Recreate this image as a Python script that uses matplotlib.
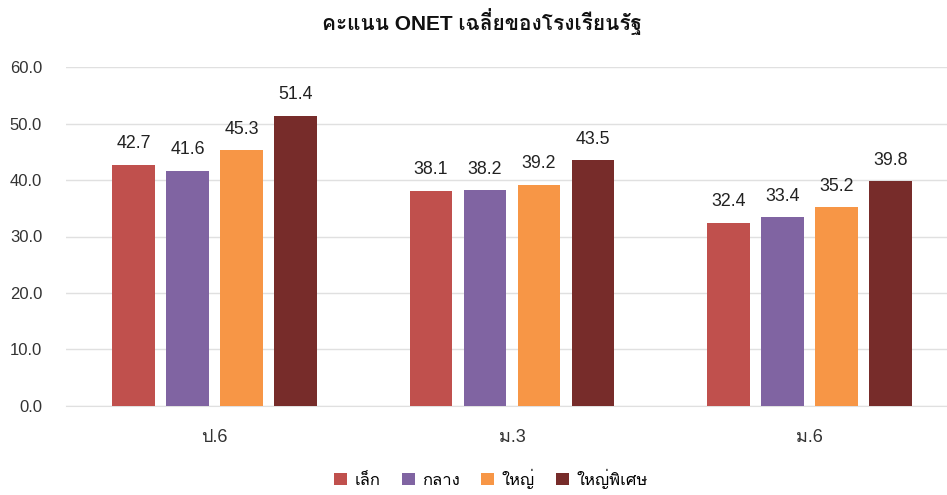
import matplotlib
matplotlib.use("Agg")
import matplotlib.pyplot as plt
from matplotlib import font_manager
import numpy as np

categories = ["ป.6", "ม.3", "ม.6"]
series_names = ["เล็ก", "กลาง", "ใหญ่", "ใหญ่พิเศษ"]
small = [42.7, 38.1, 32.4]
medium = [41.6, 38.2, 33.4]
large = [45.3, 39.2, 35.2]
extra_large = [51.4, 43.5, 39.8]
yticks = [0, 10, 20, 30, 40, 50, 60]
title = "คะแนน ONET เฉลี่ยของโรงเรียนรัฐ"

colors = ["#C0504D", "#8064A2", "#F79646", "#772C2A"]

installed = {f.name for f in font_manager.fontManager.ttflist}
thai = None
for cand in ["Loma", "Noto Sans Thai", "Noto Sans Thai Looped", "Tlwg Typo"]:
    if cand in installed:
        thai = cand
        break
fam = ["Liberation Sans"] + ([thai] if thai else []) + ["DejaVu Sans"]
plt.rcParams["font.family"] = fam

W, H = 947, 495
fig = plt.figure(figsize=(W / 100, H / 100), dpi=100)
left_px, right_px = 65.75, 958.25
bottom_px, top_px = 405.7, 67.3
ax = fig.add_axes([left_px / W, (H - bottom_px) / H,
                   (right_px - left_px) / W, (bottom_px - top_px) / H])

series = [small, medium, large, extra_large]
x = np.arange(len(categories))
w = 0.143
pitch = 0.1815
offsets = (np.arange(4) - 1.5) * pitch
for i, (vals, c, name) in enumerate(zip(series, colors, series_names)):
    bars = ax.bar(x + offsets[i], vals, w, color=c, label=name, zorder=3)
    for b, v in zip(bars, vals):
        ax.annotate(f"{v:.1f}", (b.get_x() + b.get_width() / 2, v),
                    xytext=(0, 12), textcoords="offset points",
                    ha="center", va="baseline", fontsize=12.8, color="#222222")

ax.set_ylim(0, 60)
ax.set_xlim(-0.5, 2.5)
ax.set_yticks(yticks)
ax.set_yticklabels([f"{t:.1f}" for t in yticks], fontsize=12, color="#333333")
ax.set_xticks(x)
ax.set_xticklabels(categories, fontsize=13, color="#333333")
ax.tick_params(axis="y", length=0, pad=17)
ax.tick_params(axis="x", length=0, pad=16.5)
ax.grid(axis="y", color="#E0E0E0", linewidth=1.0, zorder=0)
for s in ["top", "right", "left"]:
    ax.spines[s].set_visible(False)
ax.spines["bottom"].set_color("#E0E0E0")

fig.text(482 / W, 1 - 22 / H, title, fontsize=15, fontweight="bold",
         ha="center", va="center", color="#111111")
fig.legend(loc="center", ncol=4, frameon=False, fontsize=12,
           bbox_to_anchor=(491 / W, 1 - 479 / H), handlelength=0.75,
           handleheight=0.75, columnspacing=1.3, handletextpad=0.45)

fig.savefig("out.png", dpi=100)
